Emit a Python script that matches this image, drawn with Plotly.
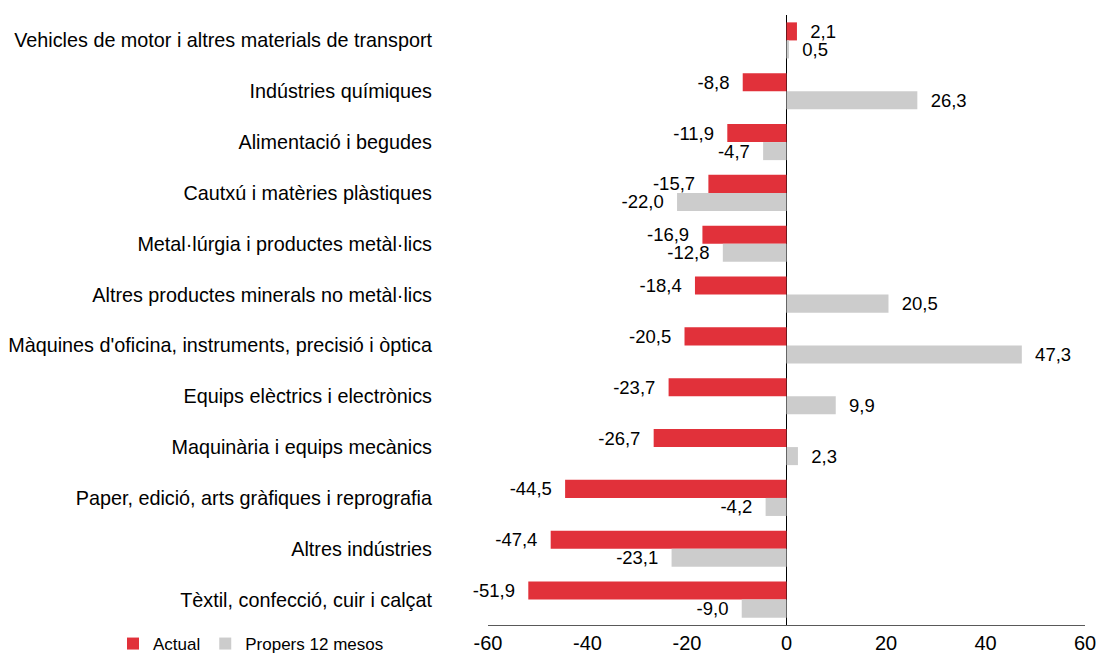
import plotly.graph_objects as go

categories = [
    "Vehicles de motor i altres materials de transport",
    "Indústries químiques",
    "Alimentació i begudes",
    "Cautxú i matèries plàstiques",
    "Metal·lúrgia i productes metàl·lics",
    "Altres productes minerals no metàl·lics",
    "Màquines d'oficina, instruments, precisió i òptica",
    "Equips elèctrics i electrònics",
    "Maquinària i equips mecànics",
    "Paper, edició, arts gràfiques i reprografia",
    "Altres indústries",
    "Tèxtil, confecció, cuir i calçat",
]
actual = [2.1, -8.8, -11.9, -15.7, -16.9, -18.4, -20.5, -23.7, -26.7, -44.5, -47.4, -51.9]
propers = [0.5, 26.3, -4.7, -22.0, -12.8, 20.5, 47.3, 9.9, 2.3, -4.2, -23.1, -9.0]
tick_vals = [-60, -40, -20, 0, 20, 40, 60]
tick_text = ["-60", "-40", "-20", "0", "20", "40", "60"]

PAD = "\u00a0\u00a0"

def fmt(v):
    s = f"{v:.1f}".replace(".", ",")
    return (s + PAD) if v < 0 else (PAD + s)

FONT = "Arial"

fig = go.Figure()
fig.add_trace(go.Bar(
    y=categories, x=actual, orientation="h", name="Actual",
    marker=dict(color="#E1313A", line=dict(width=0)),
    text=[fmt(v) for v in actual], textposition="outside", constraintext="none",
    textfont=dict(size=18.5, color="#000000", family=FONT), cliponaxis=False,
))
fig.add_trace(go.Bar(
    y=categories, x=propers, orientation="h", name="Propers 12 mesos",
    marker=dict(color="#CCCCCC", line=dict(width=0)),
    text=[fmt(v) for v in propers], textposition="outside", constraintext="none",
    textfont=dict(size=18.5, color="#000000", family=FONT), cliponaxis=False,
))

fig.update_layout(
    width=1100, height=655,
    margin=dict(l=488, r=15, t=15, b=30, autoexpand=False),
    paper_bgcolor="white", plot_bgcolor="white",
    barmode="group", bargap=0.29, bargroupgap=0.0,
    font=dict(family=FONT, size=19.8, color="#000000"),
    showlegend=True,
    legend=dict(
        orientation="h", x=(113 - 488) / 597, y=-(644 - 625) / 610,
        xanchor="left", yanchor="middle",
        font=dict(size=17, family=FONT), itemwidth=30,
        bgcolor="rgba(0,0,0,0)",
    ),
    xaxis=dict(
        range=[-60, 60], tickvals=tick_vals, ticktext=tick_text,
        showgrid=False, zeroline=True, zerolinecolor="#000000", zerolinewidth=1,
        showline=True, linecolor="#595959", linewidth=1, ticks="",
        tickfont=dict(size=20, family=FONT), automargin=False,
    ),
    yaxis=dict(
        autorange="reversed", showgrid=False, showline=False, ticks="",
        ticklabelstandoff=55, tickfont=dict(size=19.8, family=FONT), automargin=False,
    ),
    annotations=[dict(
        text="2020", xref="paper", yref="paper",
        x=(-14 - 488) / 597, y=1 + (15 - 5) / 610, xanchor="left", yanchor="bottom",
        showarrow=False, font=dict(size=19.8, family=FONT),
    )],
)

fig.write_html("out.html", config={"displayModeBar": False},
               post_script="document.body.style.margin='0';")
